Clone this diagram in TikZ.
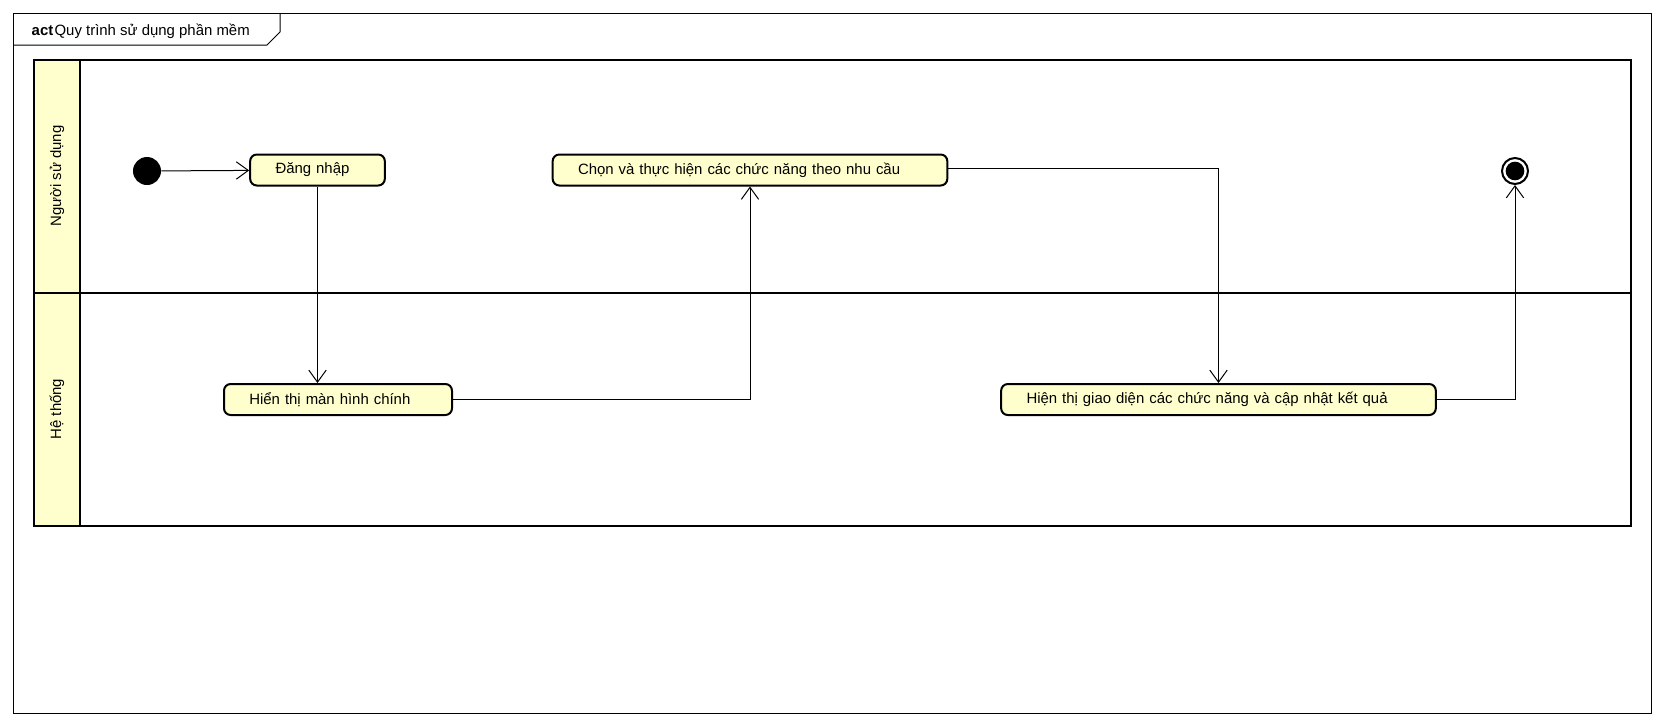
\documentclass[tikz,border=0pt]{standalone}
\usepackage{fontspec}
\setmainfont{Liberation Sans}
\usetikzlibrary{arrows.meta}
\definecolor{vangnhat}{RGB}{255,255,206}

\begin{document}
\begin{tikzpicture}[
  x=0.75pt, y=-0.75pt,
  chu/.style={font=\fontsize{11.2}{13}\selectfont},
  hanhdong/.style={draw, line width=1.5pt, rounded corners=5pt, fill=vangnhat,
                   minimum height=23.25pt, inner ysep=0pt, inner xsep=19pt,
                   text width=#1, align=left, chu},
  lan/.style={line width=1.6pt},
  nhanlan/.style={rotate=90, chu},
  mui/.style={-{Straight Barb[length=9pt, width=13pt]}, line width=0.75pt}
]
\useasboundingbox (0,0) rectangle (1664,726);

% khung ngoai
\draw[line width=0.75pt] (13,13) rectangle (1651,713);
\draw[line width=0.75pt] (13,45) -- (267,45) -- (280,32) -- (280,13);
\node[anchor=base west, chu] (tieude) at (27,35)
  {\textbf{act}\hspace{1pt}Quy trình sử dụng phần mềm};

% cac lan
\draw[lan, fill=vangnhat] (34,60) rectangle (80,526);
\draw[lan] (34,60) rectangle (1631,526);
\draw[lan] (34,293) -- (1631,293);
\node[nhanlan] (lannguoidung) at (57,176) {Người sử dụng};
\node[nhanlan] (lanhethong)   at (57,409) {Hệ thống};

% cac nut
\node[circle, fill=black, minimum size=21pt, inner sep=0pt] (batdau) at (147,171) {};
\node[hanhdong=63pt]  (dangnhap)     at (317.5,170) {Đăng nhập};
\node[hanhdong=133pt] (manhinhchinh) at (338,399.5) {Hiển thị màn hình chính};
\node[hanhdong=258pt] (chucnang)     at (750,170) {Chọn và thực hiện các chức năng theo nhu cầu};
\node[hanhdong=288pt] (giaodien)     at (1218.5,399.5) {Hiện thị giao diện các chức năng và cập nhật kết quả};
\node[circle, draw, line width=1.5pt, minimum size=19.5pt, inner sep=0pt] (ketthuc) at (1515,171) {};
\fill (ketthuc.center) circle (7pt);

% luong
\draw[mui] (batdau) -- (dangnhap);
\draw[mui] (dangnhap.south) -- (dangnhap.south |- manhinhchinh.north);
\draw[mui] (manhinhchinh.east) -| (chucnang.south);
\draw[mui] ([yshift=1.5pt]chucnang.east) -| (giaodien.north);
\draw[mui] (giaodien.east) -| (ketthuc.south);

\end{tikzpicture}
\end{document}
